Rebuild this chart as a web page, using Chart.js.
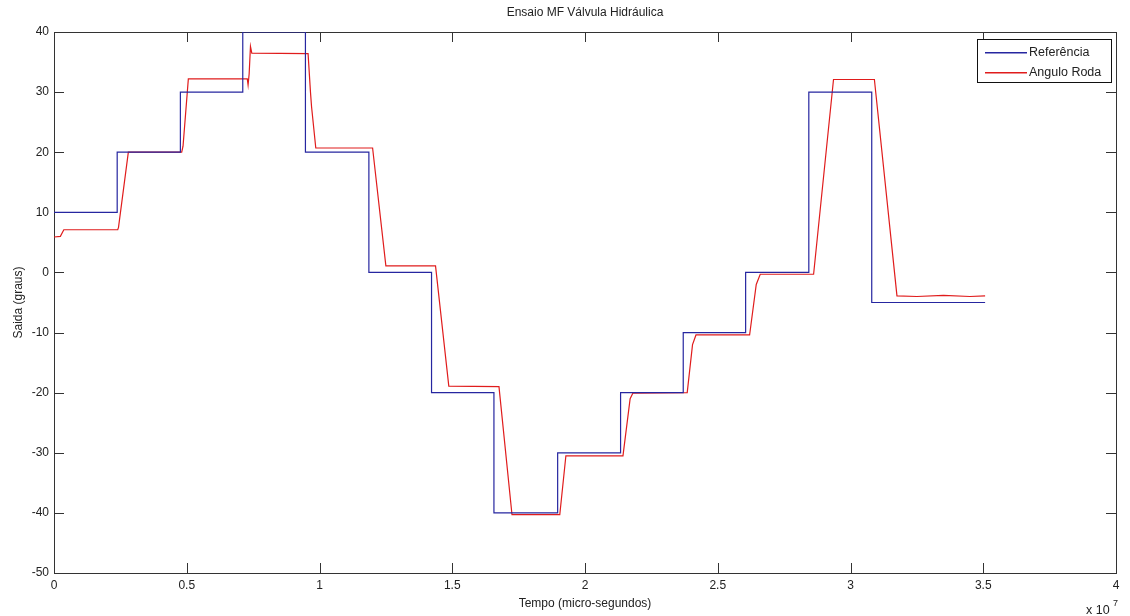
<!DOCTYPE html>
<html>
<head>
<meta charset="utf-8">
<script src="https://cdn.jsdelivr.net/npm/chart.js@4.4.0/dist/chart.umd.min.js"></script>
<style>html,body{margin:0;padding:0;background:#fff;overflow:hidden}canvas{display:block}</style>
</head>
<body>
<canvas id="c" width="1130" height="616"></canvas>
<script>
// ---- text ----
const chartTitle = 'Ensaio MF Válvula Hidráulica';
const xAxisTitle = 'Tempo (micro-segundos)';
const yAxisTitle = 'Saida (graus)';
const xExponentText = 'x 10';
const xExponentPower = '7';
const seriesNames = ['Referência', 'Angulo Roda'];

// ---- ticks ----
const xTickValues = [0, 0.5, 1, 1.5, 2, 2.5, 3, 3.5, 4];
const yTickValues = [-50, -40, -30, -20, -10, 0, 10, 20, 30, 40];

// ---- series: Referência (step levels starting at each time, x 10^7 us) ----
const refStepTimes  = [0, 0.238, 0.476, 0.711, 0.947, 1.186, 1.422, 1.657, 1.897, 2.134, 2.370, 2.605, 2.843, 3.080, 3.507];
const refStepLevels = [10, 20, 30, 40, 20, 0, -20, -40, -30, -20, -10, 0, 30, -5, -5];

// ---- series: Angulo Roda (measured wheel angle, x 10^7 us) ----
const wheelTimes  = [0, 0.024, 0.037, 0.240, 0.243, 0.280, 0.481, 0.486, 0.506, 0.728, 0.731, 0.735, 0.740, 0.745,
                     0.957, 0.966, 0.970, 0.986, 1.200, 1.250, 1.437, 1.487, 1.676, 1.725, 1.905, 1.928,
                     2.143, 2.170, 2.180, 2.385, 2.405, 2.418, 2.620, 2.645, 2.660, 2.861, 2.936, 3.090, 3.175,
                     3.250, 3.350, 3.450, 3.507];
const wheelAngles = [5.9, 6.0, 7.1, 7.1, 7.5, 20.0, 20.0, 21.0, 32.2, 32.2, 31.2, 33.0, 37.6, 36.5,
                     36.4, 30.0, 27.6, 20.7, 20.7, 1.1, 1.1, -18.9, -19.0, -40.3, -40.3, -30.5,
                     -30.5, -21.0, -20.1, -20.0, -12.0, -10.4, -10.4, -2.0, -0.3, -0.3, 32.1, 32.1, -3.9,
                     -4.0, -3.8, -4.0, -3.9];

// ---- styles ----
const seriesColors = ['#2626a0', '#e01c1c'];
const axisColor = '#333333';
const textColor = '#222222';
const fontFamily = "'Liberation Sans', Arial, sans-serif";

const toPoints = (xs, ys) => xs.map((x, i) => ({ x: x, y: ys[i] }));

const matlabFrame = {
  id: 'matlabFrame',
  beforeDatasetsDraw(chart) {
    const { ctx, chartArea: a, scales } = chart;
    const xs = scales.x, ys = scales.y;
    const L = 10;
    ctx.save();
    ctx.strokeStyle = axisColor;
    ctx.lineWidth = 1;
    ctx.beginPath();
    xs.ticks.forEach(t => {
      const px = Math.round(xs.getPixelForValue(t.value)) + 0.5;
      ctx.moveTo(px, a.bottom); ctx.lineTo(px, a.bottom - L);
      ctx.moveTo(px, a.top); ctx.lineTo(px, a.top + L);
    });
    ys.ticks.forEach(t => {
      const py = Math.round(ys.getPixelForValue(t.value)) + 0.5;
      ctx.moveTo(a.left, py); ctx.lineTo(a.left + L, py);
      ctx.moveTo(a.right, py); ctx.lineTo(a.right - L, py);
    });
    ctx.stroke();
    ctx.strokeRect(Math.round(a.left) + 0.5, Math.round(a.top) + 0.5,
                   Math.round(a.right - a.left), Math.round(a.bottom - a.top));
    ctx.restore();
  },
  afterDraw(chart) {
    const { ctx, chartArea: a } = chart;
    ctx.save();
    // legend box (inside top-right)
    const bw = 134, bh = 43;
    const bx = Math.round(a.right - 5 - bw), by = Math.round(a.top + 7);
    ctx.fillStyle = '#ffffff';
    ctx.fillRect(bx, by, bw, bh);
    ctx.strokeStyle = '#111111';
    ctx.lineWidth = 1;
    ctx.strokeRect(bx + 0.5, by + 0.5, bw, bh);
    ctx.font = '12.5px ' + fontFamily;
    ctx.textBaseline = 'middle';
    ctx.textAlign = 'left';
    chart.data.datasets.forEach((ds, i) => {
      const ly = by + 13 + i * 20;
      ctx.fillStyle = seriesColors[i];
      ctx.fillRect(bx + 8, ly, 42, 1.5);
      ctx.fillStyle = textColor;
      ctx.fillText(ds.label, bx + 52, ly + 0.5);
    });
    // x-axis exponent
    ctx.fillStyle = textColor;
    ctx.font = '12.5px ' + fontFamily;
    ctx.textBaseline = 'alphabetic';
    ctx.fillText(xExponentText, a.right - 30, 614);
    ctx.font = '9px ' + fontFamily;
    ctx.fillText(xExponentPower, a.right - 3, 606);
    ctx.restore();
  }
};

new Chart(document.getElementById('c'), {
  type: 'line',
  data: {
    datasets: [
      {
        label: seriesNames[0],
        data: toPoints(refStepTimes, refStepLevels),
        borderColor: seriesColors[0],
        backgroundColor: seriesColors[0],
        borderWidth: 1.2,
        pointRadius: 0,
        stepped: 'before',
        fill: false
      },
      {
        label: seriesNames[1],
        data: toPoints(wheelTimes, wheelAngles),
        borderColor: seriesColors[1],
        backgroundColor: seriesColors[1],
        borderWidth: 1.2,
        pointRadius: 0,
        tension: 0,
        fill: false
      }
    ]
  },
  options: {
    responsive: false,
    animation: false,
    events: [],
    layout: { padding: { left: 0, right: 14, top: 0, bottom: 0 } },
    plugins: {
      legend: { display: false },
      tooltip: { enabled: false },
      title: {
        display: true,
        text: chartTitle,
        fullSize: false,
        color: textColor,
        font: { family: fontFamily, size: 12, weight: 'normal', lineHeight: 1.2 },
        padding: { top: 5, bottom: 12.6 }
      }
    },
    scales: {
      x: {
        type: 'linear',
        min: 0,
        max: 4,
        afterBuildTicks: s => { s.ticks = xTickValues.map(v => ({ value: v })); },
        afterFit: s => { s.height = 43; },
        grid: { display: false, drawTicks: false },
        border: { display: false },
        ticks: {
          padding: 5,
          color: textColor,
          font: { family: fontFamily, size: 12 },
          maxRotation: 0,
          autoSkip: false,
          callback: v => String(v)
        },
        title: {
          display: true,
          text: xAxisTitle,
          color: textColor,
          font: { family: fontFamily, size: 12, lineHeight: 1.2 },
          padding: { top: 0, bottom: 5 }
        }
      },
      y: {
        type: 'linear',
        min: -50,
        max: 40,
        afterBuildTicks: s => { s.ticks = yTickValues.map(v => ({ value: v })); },
        afterFit: s => { s.width = 54; },
        grid: { display: false, drawTicks: false },
        border: { display: false },
        ticks: {
          padding: 5,
          color: textColor,
          font: { family: fontFamily, size: 12 },
          autoSkip: false,
          callback: v => String(v)
        },
        title: {
          display: true,
          text: yAxisTitle,
          color: textColor,
          font: { family: fontFamily, size: 12, lineHeight: 1.2 },
          padding: { top: 11, bottom: 0 }
        }
      }
    }
  },
  plugins: [matlabFrame]
});
</script>
</body>
</html>
